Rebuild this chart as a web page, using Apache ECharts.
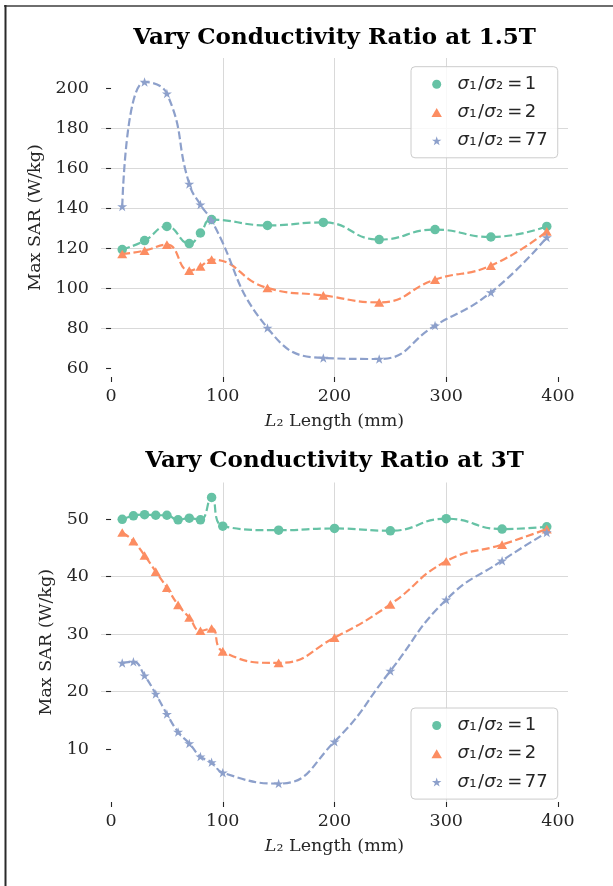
<!DOCTYPE html>
<html><head><meta charset="utf-8">
<script src="https://cdn.jsdelivr.net/npm/echarts@6/dist/echarts.min.js"></script>
<style>html,body{margin:0;padding:0;background:#fff}#c{width:613px;height:886px}</style>
</head><body><div id="c"></div>
<script>
// ---- data ----
const ratioNames = ['σ₁/σ₂=1', 'σ₁/σ₂=2', 'σ₁/σ₂=77'];
const ratioValues = ['1', '2', '77'];
const titles = ['Vary Conductivity Ratio at 1.5T', 'Vary Conductivity Ratio at 3T'];
const x15 = [10, 30, 50, 70, 80, 90, 140, 190, 240, 290, 340, 390];
const sar15_r1 = [119.2, 123.7, 130.8, 122.2, 127.5, 134.2, 131.3, 132.8, 124.2, 129.2, 125.5, 130.8];
const sar15_r2 = [117.0, 118.7, 121.7, 108.7, 110.8, 114.2, 100.0, 96.3, 92.8, 104.2, 111.2, 128.3];
const sar15_r77 = [140.8, 203.0, 197.2, 152.0, 141.7, 133.7, 80.0, 65.0, 64.5, 81.2, 97.8, 125.3];
const x3 = [10, 20, 30, 40, 50, 60, 70, 80, 90, 100, 150, 200, 250, 300, 350, 390];
const sar3_r1 = [50.0, 50.6, 50.8, 50.7, 50.7, 49.9, 50.2, 49.9, 53.8, 48.8, 48.1, 48.4, 48.0, 50.1, 48.3, 48.7];
const sar3_r2 = [47.7, 46.2, 43.7, 40.9, 38.1, 35.1, 32.9, 30.6, 31.0, 27.0, 25.0, 29.4, 35.2, 42.7, 45.6, 48.3];
const sar3_r77 = [25.0, 25.2, 22.8, 19.6, 16.1, 13.0, 11.0, 8.7, 7.7, 5.9, 4.0, 11.3, 23.6, 36.0, 42.8, 47.7];
const xTicks = [0, 100, 200, 300, 400];
const yTicks15 = [60, 80, 100, 120, 140, 160, 180, 200];
const yTicks3 = [10, 20, 30, 40, 50];

// ---- styling ----
const colors = ['#66c2a5', '#fc8d62', '#8da0cb'];
const starPath = 'path://M50,0 L61.2,34.5 L97.6,34.5 L68.2,55.9 L79.4,90.5 L50,69.1 L20.6,90.5 L31.8,55.9 L2.4,34.5 L38.8,34.5 Z';
const triPath = 'path://M50,0 L100,86.6 L0,86.6 Z';
const symbols = ['circle', triPath, starPath];
const symSizes = [9.5, 10, 10];
const txt = '#262626';
const serif = 'DejaVu Serif';
const sans = 'DejaVu Sans';
const tickFont = 17.5;
const legFont = 18;

const grids = [
  {left: 101, top: 58, width: 467, height: 319},
  {left: 101, top: 482.5, width: 467, height: 319.5}
];
const yRanges = [[55.5, 215], [0.8, 56.4]];
const yTickSets = [yTicks15, yTicks3];
const yNameGaps = [53, 42];

function pairs(xs, ys) { return xs.map((x, i) => [x, ys[i]]); }
const sets = [
  [pairs(x15, sar15_r1), pairs(x15, sar15_r2), pairs(x15, sar15_r77)],
  [pairs(x3, sar3_r1), pairs(x3, sar3_r2), pairs(x3, sar3_r77)]
];

const xAxes = [], yAxes = [], series = [], titleArr = [], legends = [];
for (let g = 0; g < 2; g++) {
  xAxes.push({
    gridIndex: g, type: 'value', min: -9, max: 409, interval: 100,
    axisLine: {show: false},
    axisTick: {show: true, length: 5, customValues: xTicks, lineStyle: {color: txt, width: 1.1}},
    axisLabel: {customValues: xTicks, margin: 10, fontFamily: serif, fontSize: tickFont, color: txt},
    splitLine: {show: true, showMinLine: false, showMaxLine: false, lineStyle: {color: '#d9d9d9', width: 1}},
    name: '{i|L}{n|₂ Length (mm)}', nameLocation: 'middle', nameGap: 35,
    nameTextStyle: {fontFamily: serif, fontSize: tickFont, color: txt,
      rich: {i: {fontFamily: serif, fontStyle: 'italic', fontSize: tickFont, color: txt},
             n: {fontFamily: serif, fontSize: tickFont, color: txt}}}
  });
  yAxes.push({
    gridIndex: g, type: 'value', min: yRanges[g][0], max: yRanges[g][1], interval: g === 0 ? 20 : 10,
    axisLine: {show: false},
    axisTick: {show: true, length: 5, customValues: yTickSets[g], lineStyle: {color: txt, width: 1.1}},
    axisLabel: {customValues: yTickSets[g], margin: 12, fontFamily: serif, fontSize: tickFont, color: txt},
    splitLine: {show: true, showMinLine: false, showMaxLine: false, lineStyle: {color: '#d9d9d9', width: 1}},
    name: 'Max SAR (W/kg)', nameLocation: 'middle', nameGap: yNameGaps[g],
    nameTextStyle: {fontFamily: serif, fontSize: tickFont, color: txt}
  });
  for (let s = 0; s < 3; s++) {
    series.push({
      type: 'line', name: ratioNames[s], xAxisIndex: g, yAxisIndex: g,
      data: sets[g][s], smooth: 0.5,
      symbol: symbols[s], symbolSize: symSizes[s], symbolKeepAspect: true, showSymbol: true,
      itemStyle: {color: colors[s]},
      lineStyle: {color: colors[s], width: 2.2, type: [8, 3.5]},
      emphasis: {disabled: true}, animation: false, z: 2 + s
    });
  }
  const gr = grids[g];
  titleArr.push({
    text: titles[g], left: gr.left + gr.width / 2, textAlign: 'center',
    top: g === 0 ? 27 : 450, padding: 0,
    textStyle: {fontFamily: serif, fontWeight: 'bold', fontSize: 23, color: '#000'}
  });
  const base = {fontFamily: sans, fontSize: legFont, color: txt, lineHeight: 20};
  legends.push({
    orient: 'vertical', left: 411, top: g === 0 ? 66.7 : 708,
    data: ratioNames.map((n, i) => ({name: n, icon: symbols[i], itemStyle: {color: colors[i]}})),
    itemWidth: 31.5, itemHeight: 9, itemGap: 8.3, padding: [7.5, 10, 7, 20.5],
    backgroundColor: 'rgba(255,255,255,0.8)', borderColor: '#cccccc', borderWidth: 1, borderRadius: 4,
    selectedMode: false,
    formatter: function (name) {
      const v = ratioValues[ratioNames.indexOf(name)];
      return '{i|σ}{s|₁}{n|/}{i|σ}{s|₂}{e|=}{n|' + v + '}';
    },
    textStyle: Object.assign({}, base, {
      rich: {
        i: Object.assign({}, base, {fontStyle: 'italic'}),
        s: Object.assign({}, base, {padding: [0, 1.5, 0, 0.5]}),
        e: Object.assign({}, base, {padding: [0, 2.5, 0, 2.5]}),
        n: Object.assign({}, base)
      }
    })
  });
}

const chart = echarts.init(document.getElementById('c'), null, {renderer: 'canvas'});
chart.setOption({
  backgroundColor: '#ffffff',
  animation: false,
  title: titleArr,
  grid: grids,
  xAxis: xAxes,
  yAxis: yAxes,
  legend: legends,
  series: series,
  graphic: [
    {type: 'line', shape: {x1: 4, y1: 6, x2: 613, y2: 6}, style: {stroke: '#6e6e6e', lineWidth: 2}, silent: true},
    {type: 'line', shape: {x1: 5.5, y1: 5, x2: 5.5, y2: 886}, style: {stroke: '#2a2a2a', lineWidth: 2}, silent: true}
  ]
});
</script></body></html>
